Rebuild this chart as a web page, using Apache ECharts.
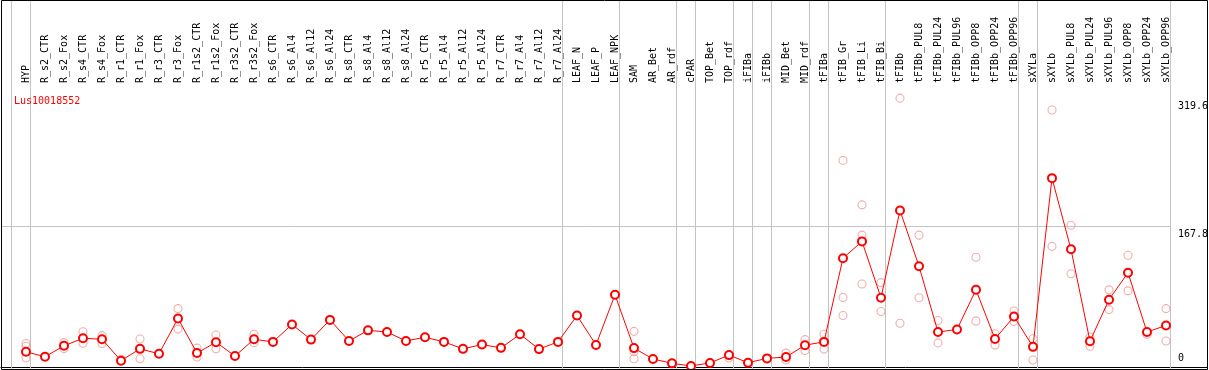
<!DOCTYPE html>
<html>
<head>
<meta charset="utf-8">
<script src="https://cdn.jsdelivr.net/npm/echarts@6/dist/echarts.min.js"></script>
<style>
  html, body { margin: 0; padding: 0; background: #fff; }
  #chart { width: 1209px; height: 370px; }
</style>
</head>
<body>
<div id="chart"></div>
<script>
const geneId = 'Lus10018552'

const categories = [
  'HYP', 'R_s2_CTR', 'R_s2_Fox', 'R_s4_CTR', 'R_s4_Fox', 'R_r1_CTR', 'R_r1_Fox', 'R_r3_CTR', 'R_r3_Fox',
  'R_r1s2_CTR', 'R_r1s2_Fox', 'R_r3s2_CTR', 'R_r3s2_Fox', 'R_s6_CTR', 'R_s6_Al4', 'R_s6_Al12', 'R_s6_Al24',
  'R_s8_CTR', 'R_s8_Al4', 'R_s8_Al12', 'R_s8_Al24', 'R_r5_CTR', 'R_r5_Al4', 'R_r5_Al12', 'R_r5_Al24',
  'R_r7_CTR', 'R_r7_Al4', 'R_r7_Al12', 'R_r7_Al24', 'LEAF_N', 'LEAF_P', 'LEAF_NPK', 'SAM', 'AR_Bet', 'AR_rdf',
  'cPAR', 'TOP_Bet', 'TOP_rdf', 'iFIBa', 'iFIBb', 'MID_Bet', 'MID_rdf', 'tFIBa', 'tFIB_Gr', 'tFIB_Li', 'tFIB_Bi',
  'tFIBb', 'tFIBb_PUL8', 'tFIBb_PUL24', 'tFIBb_PUL96', 'tFIBb_OPP8', 'tFIBb_OPP24', 'tFIBb_OPP96',
  'sXYLa', 'sXYLb', 'sXYLb_PUL8', 'sXYLb_PUL24', 'sXYLb_PUL96', 'sXYLb_OPP8', 'sXYLb_OPP24', 'sXYLb_OPP96'
]

// mean expression per sample
const meanValues = [
  18.4, 12.6, 25.5, 34.5, 33.3, 7.9, 21.9, 16.1, 58.0,
  16.9, 29.8, 13.4, 33.3, 30.2, 50.9, 32.9, 56.3,
  31.3, 43.9, 41.9, 31.3, 35.7, 30.2, 21.9, 27.0,
  23.1, 39.2, 21.6, 30.2, 61.5, 26.6, 86.1, 22.8, 9.9, 4.7,
  1.6, 5.2, 14.5, 5.5, 10.6, 12.2, 26.3, 30.2, 129.5, 149.5, 82.6,
  186.2, 120.1, 41.9, 45.0, 92.0, 33.7, 60.3,
  24.3, 224.6, 140.1, 31.0, 80.3, 112.3, 41.9, 49.7
]

// individual replicates (null = not drawn)
const repA = [
  28.2, null, 29.3, 42.3, 37.6, 9.4, 33.7, null, 69.7,
  22.8, 38.4, null, 39.2, null, null, null, null,
  null, null, null, null, null, null, null, null,
  null, null, null, null, null, null, null, 42.7, null, null,
  null, null, 11.0, null, 10.0, 16.9, 32.9, 39.2, 245.7, 192.9, 100.6,
  319.6, 156.9, 55.6, null, 130.7, 39.9, 66.9,
  34.0, 305.5, 168.6, 36.0, 92.0, 133.1, 39.2, 69.7
]
const repB = [
  25.1, null, 22.3, 28.6, 28.2, null, 10.2, null, 45.4,
  12.2, 21.9, null, 29.3, null, null, null, null,
  null, null, null, null, null, null, null, null,
  null, null, null, null, null, null, null, 18.4, null, null,
  null, null, null, null, null, 8.7, 19.9, 21.6, 83.0, 156.9, 66.2,
  52.4, 82.6, 29.0, null, 54.8, 26.6, 54.4,
  8.7, 143.6, 111.1, 25.1, 68.5, 90.8, null, 31.3
]
const repC = [
  11.0, null, null, null, null, null, null, null, null,
  null, null, null, null, null, null, null, null,
  null, null, null, null, null, null, null, null,
  null, null, null, null, null, null, null, 10.2, null, null,
  null, null, null, null, null, null, null, null, 61.5, 99.0, null,
  null, null, null, null, null, null, null,
  null, null, null, null, null, null, null, null
]

// sample index after which a group separator is drawn
const groupEnds = [-1, 0, 28, 31, 34, 35, 37, 38, 39, 41, 42, 45, 52, 53, 60]
const yTicks = [319.6, 167.8, 0]
const gridValue = 167.8

const chart = echarts.init(document.getElementById('chart'))
const font = 'DejaVu Sans Mono'

const repPoints = []
;[repA, repB, repC].forEach((reps) => {
  reps.forEach((v, i) => {
    if (v != null) repPoints.push([i, v])
  })
})

chart.setOption({
  animation: false,
  title: {
    text: geneId,
    left: 9,
    top: 91,
    textStyle: { color: '#ff0000', fontFamily: font, fontSize: 10, fontWeight: 'normal' },
  },
  grid: { left: 1, right: 2, top: 85, bottom: 1 },
  xAxis: {
    type: 'value',
    position: 'top',
    min: -1.3158,
    max: 62.158,
    axisLine: { show: true, lineStyle: { color: '#000', width: 1 } },
    axisTick: { show: false },
    splitLine: { show: false },
    axisLabel: {
      customValues: categories.map((c, i) => i),
      formatter: (v) => categories[v],
      rotate: 90,
      margin: 2,
      color: '#000',
      fontFamily: font,
      fontSize: 10,
    },
  },
  yAxis: {
    type: 'value',
    position: 'right',
    min: -2,
    max: 335.2,
    axisLine: { show: false },
    axisTick: { show: false },
    axisLabel: { show: false },
    splitLine: { show: false },
  },
  series: [
    {
      type: 'custom',
      clip: false,
      silent: true,
      z: 1,
      data: groupEnds.map((g) => [g + 0.21, 0]),
      renderItem: (params, api) => {
        const x = Math.round(api.coord([api.value(0), 0])[0]) + 0.5
        return {
          type: 'line',
          shape: { x1: x, y1: 0, x2: x, y2: 369 },
          style: { stroke: '#c4c4c4', lineWidth: 1 },
        }
      },
    },
    {
      type: 'custom',
      clip: false,
      silent: true,
      z: 1,
      data: [[groupEnds[groupEnds.length - 1] + 0.21, gridValue]],
      renderItem: (params, api) => {
        const p = api.coord([api.value(0), api.value(1)])
        const y = Math.round(p[1]) + 0.5
        return {
          type: 'line',
          shape: { x1: 1, y1: y, x2: Math.round(p[0]) + 0.5, y2: y },
          style: { stroke: '#c4c4c4', lineWidth: 1 },
        }
      },
    },
    {
      type: 'scatter',
      z: 2,
      symbol: 'circle',
      symbolSize: 8,
      data: repPoints,
      itemStyle: { color: 'rgba(0,0,0,0)', borderColor: '#ee9a9a', borderWidth: 1.1 },
    },
    {
      type: 'line',
      z: 3,
      data: meanValues.map((v, i) => [i, v]),
      symbol: 'emptyCircle',
      symbolSize: 8,
      lineStyle: { color: '#ff0000', width: 1 },
      itemStyle: { color: '#ff0000', borderColor: '#ff0000', borderWidth: 1.3 },
    },
  ],
})

// right-hand value labels and outer frame
const labelX = 1178
const offsets = { 0: [-4, 'bottom'] }
chart.setOption({
  graphic: [
    ...yTicks.map((t) => {
      const y = chart.convertToPixel({ yAxisIndex: 0 }, t)
      const [dy, va] = offsets[t] || [3, 'top']
      return {
        type: 'text',
        x: labelX,
        y: Math.round(y + dy),
        z: 10,
        style: {
          text: String(t),
          fill: '#000',
          font: '10px "' + font + '"',
          textVerticalAlign: va,
        },
      }
    }),
    {
      type: 'rect',
      z: 11,
      silent: true,
      shape: { x: 1.5, y: 0.5, width: 1206, height: 369 },
      style: { fill: 'none', stroke: '#000', lineWidth: 1 },
    },
  ],
})
</script>
</body>
</html>
